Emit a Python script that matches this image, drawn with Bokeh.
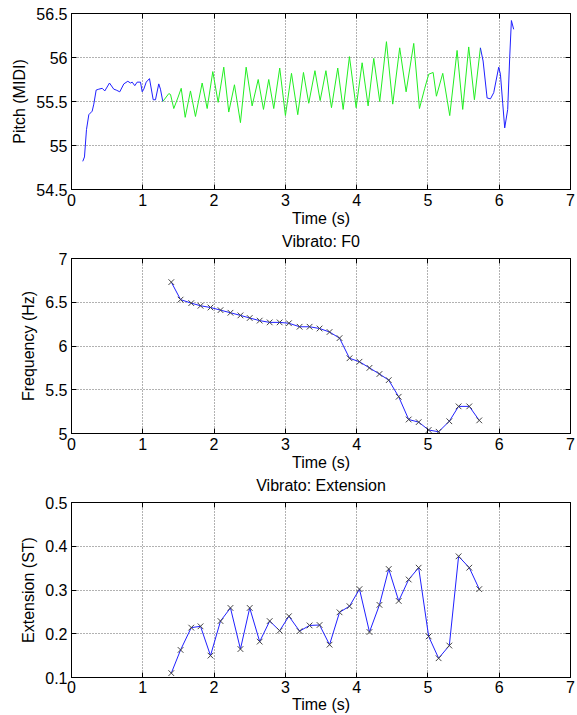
from bokeh.plotting import figure
from bokeh.layouts import column
from bokeh.models import LinearAxis, FixedTicker, Range1d, CustomLabelingPolicy, Title
from bokeh.embed import file_html
from bokeh.resources import INLINE

# ---------------- data ----------------
# pitch contour (MIDI) : non-vibrato onset segment (blue)
onset_t = [0.158, 0.182, 0.210, 0.243, 0.290, 0.313, 0.346, 0.383, 0.431, 0.467,
           0.533, 0.593, 0.627, 0.677, 0.734, 0.790, 0.827, 0.851, 0.888, 0.921,
           0.968, 0.992, 1.014, 1.048, 1.094, 1.146, 1.178, 1.224, 1.248, 1.281]
onset_p = [54.82, 54.87, 55.18, 55.35, 55.39, 55.47, 55.63, 55.64, 55.65, 55.62,
           55.71, 55.64, 55.63, 55.61, 55.70, 55.73, 55.71, 55.72, 55.68, 55.72,
           55.72, 55.61, 55.64, 55.72, 55.76, 55.52, 55.52, 55.70, 55.64, 55.50]
# vibrato segment (green)
vib_t = [1.281, 1.365, 1.389, 1.435, 1.491, 1.539, 1.595, 1.669, 1.739, 1.833,
         1.903, 1.982, 2.057, 2.136, 2.206, 2.286, 2.370, 2.450, 2.534, 2.619,
         2.693, 2.767, 2.837, 2.921, 3.001, 3.086, 3.174, 3.254, 3.328, 3.415,
         3.488, 3.569, 3.647, 3.735, 3.811, 3.899, 3.993, 4.077, 4.161, 4.240,
         4.324, 4.418, 4.506, 4.604, 4.694, 4.801, 4.881, 4.955, 5.011, 5.073,
         5.119, 5.208, 5.306, 5.409, 5.488, 5.572, 5.652, 5.736]
vib_p = [55.50, 55.59, 55.58, 55.42, 55.54, 55.65, 55.32, 55.62, 55.33, 55.71,
         55.42, 55.84, 55.49, 55.89, 55.38, 55.69, 55.26, 55.89, 55.45, 55.75,
         55.41, 55.75, 55.42, 55.88, 55.34, 55.82, 55.35, 55.83, 55.48, 55.85,
         55.51, 55.85, 55.43, 55.88, 55.41, 56.01, 55.43, 55.94, 55.45, 55.99,
         55.50, 56.18, 55.47, 56.11, 55.61, 56.16, 55.42, 55.65, 55.81, 55.83,
         55.56, 55.82, 55.34, 56.08, 55.41, 56.12, 55.52, 56.11]
# release segment (blue)
rel_t = [5.736, 5.774, 5.830, 5.877, 5.923, 5.993, 6.017, 6.049, 6.077, 6.119,
         6.147, 6.171, 6.203]
rel_p = [56.11, 55.96, 55.54, 55.53, 55.60, 55.89, 55.81, 55.48, 55.20, 55.41,
         56.00, 56.42, 56.32]

# vibrato analysis frames
frame_t = [1.40, 1.53, 1.68, 1.81, 1.95, 2.09, 2.23, 2.37, 2.50, 2.64,
           2.78, 2.92, 3.05, 3.20, 3.34, 3.48, 3.62, 3.76, 3.90, 4.04,
           4.18, 4.32, 4.45, 4.59, 4.73, 4.87, 5.01, 5.15, 5.30, 5.43,
           5.58, 5.72]
vib_rate = [6.73, 6.53, 6.49, 6.46, 6.44, 6.41, 6.38, 6.35, 6.32, 6.29,
            6.27, 6.27, 6.26, 6.22, 6.22, 6.20, 6.16, 6.09, 5.86, 5.82,
            5.75, 5.68, 5.61, 5.42, 5.16, 5.13, 5.04, 5.02, 5.14, 5.31,
            5.31, 5.15]
vib_ext = [0.110, 0.163, 0.214, 0.217, 0.150, 0.229, 0.259, 0.165, 0.259, 0.182,
           0.229, 0.207, 0.240, 0.206, 0.219, 0.220, 0.175, 0.249, 0.263, 0.302,
           0.204, 0.266, 0.348, 0.275, 0.324, 0.351, 0.194, 0.144, 0.173, 0.377,
           0.351, 0.302]

x_ticks = [0, 1, 2, 3, 4, 5, 6, 7]
pitch_ticks = [54.5, 55, 55.5, 56, 56.5]
rate_ticks = [5, 5.5, 6, 6.5, 7]
ext_ticks = [0.1, 0.2, 0.3, 0.4, 0.5]

FONT = "Liberation Sans"
FS = "16px"

NO_LABELS = """
try {
  const out = indices.clone();
  for (const i of Array.from(indices.ones())) { out.unset(i); }
  return out;
} catch (e) {
  return indices;
}
"""


def fmt(v):
    return ("%.2f" % v).rstrip("0").rstrip(".")


def box_axis(ticks):
    return LinearAxis(ticker=FixedTicker(ticks=ticks), major_tick_in=5, major_tick_out=0,
                      minor_tick_in=0, minor_tick_out=0, major_label_standoff=0,
                      major_label_text_alpha=0.0,
                      major_label_policy=CustomLabelingPolicy(code=NO_LABELS),
                      axis_line_color="black", major_tick_line_color="black")


def make_fig(height, top, bottom, yticks, ylabel, next_title=None, xl_standoff=4, xa_standoff=1):
    p = figure(width=577, height=height, output_backend="svg", toolbar_location=None,
               x_range=Range1d(0, 7), y_range=Range1d(yticks[0], yticks[-1]),
               min_border_left=71, min_border_right=7, min_border_top=top,
               min_border_bottom=bottom)
    p.background_fill_color = "white"
    p.border_fill_color = "white"
    p.outline_line_color = "black"
    p.outline_line_width = 1
    for ax in (p.xaxis[0], p.yaxis[0]):
        ax.major_tick_in = 5
        ax.major_tick_out = 0
        ax.minor_tick_in = 0
        ax.minor_tick_out = 0
        ax.axis_line_color = "black"
        ax.major_tick_line_color = "black"
        ax.major_label_text_font = FONT
        ax.major_label_text_font_size = FS
        ax.major_label_text_color = "black"
        ax.axis_label_text_font = FONT
        ax.axis_label_text_font_size = FS
        ax.axis_label_text_font_style = "normal"
        ax.axis_label_text_color = "black"
    p.xaxis[0].ticker = FixedTicker(ticks=x_ticks)
    p.yaxis[0].ticker = FixedTicker(ticks=yticks)
    p.yaxis[0].major_label_overrides = {v: fmt(v) for v in yticks}
    p.xaxis[0].axis_label = "Time (s)"
    p.yaxis[0].axis_label = ylabel
    p.xaxis[0].major_label_standoff = xl_standoff
    p.xaxis[0].axis_label_standoff = xa_standoff
    p.yaxis[0].major_label_standoff = 4
    p.yaxis[0].axis_label_standoff = 5
    # box ticks on the right and top (MATLAB style)
    p.add_layout(box_axis(yticks), "right")
    p.add_layout(box_axis(x_ticks), "above")
    for g in (p.xgrid[0], p.ygrid[0]):
        g.grid_line_color = "#404040"
        g.grid_line_dash = "1 2"
        g.grid_line_width = 1
        g.grid_line_alpha = 0.8
    p.xgrid[0].ticker = FixedTicker(ticks=x_ticks)
    p.ygrid[0].ticker = FixedTicker(ticks=yticks)
    if next_title:
        # title of the following subplot, drawn just beneath this one's x label
        t = Title(text=next_title, align="center", text_font=FONT, text_font_size=FS,
                  text_font_style="normal", text_color="black", standoff=2)
        p.add_layout(t, "below")
    return p


BLUE = "#2020ff"
GREEN = "#22ee22"
XCOL = "#444444"

p1 = make_fig(250, 13, 61, pitch_ticks, "Pitch (MIDI)", "Vibrato: F0")
p1.line(onset_t, onset_p, line_color=BLUE, line_width=1)
p1.line(vib_t, vib_p, line_color=GREEN, line_width=1)
p1.line(rel_t, rel_p, line_color=BLUE, line_width=1)

p2 = make_fig(244, 8, 61, rate_ticks, "Frequency (Hz)", "Vibrato: Extension")
p2.line(frame_t, vib_rate, line_color=BLUE, line_width=1)
p2.scatter(frame_t, vib_rate, marker="x", size=8, line_color=XCOL, line_width=1)

p3 = make_fig(221, 8, 38, ext_ticks, "Extension (ST)", None,
              xl_standoff=3, xa_standoff=0)
p3.line(frame_t, vib_ext, line_color=BLUE, line_width=1)
p3.scatter(frame_t, vib_ext, marker="x", size=8, line_color=XCOL, line_width=1)

layout = column(p1, p2, p3, spacing=0)

open("out.html", "w").write(file_html(layout, INLINE))
